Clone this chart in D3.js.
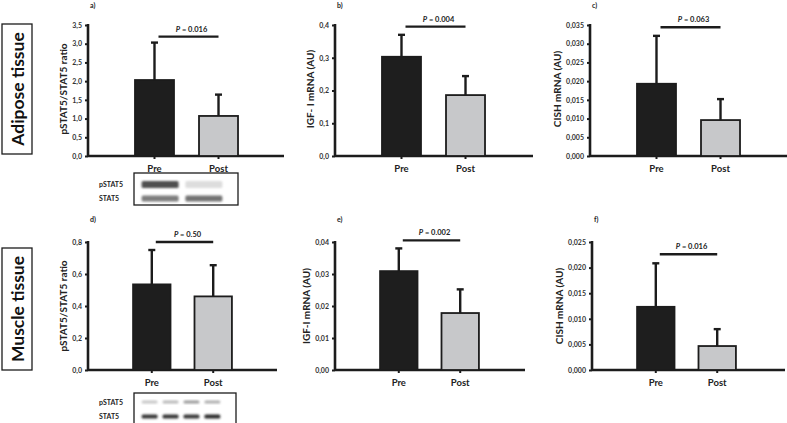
<!DOCTYPE html>
<html><head><meta charset="utf-8">
<script src="https://cdn.jsdelivr.net/npm/d3@7"></script>
<style>
html,body{margin:0;padding:0;background:#fff;}
svg{display:block;font-family:Lato,"Open Sans",sans-serif;}
</style></head>
<body>
<svg id="chart" width="787" height="423"></svg>
<script>
const categories = ["Pre", "Post"];
const panelLetters = ["a)", "b)", "c)", "d)", "e)", "f)"];
const preMeans  = [2.03, 0.303, 0.0193, 0.535, 0.0309, 0.01234];
const postMeans = [1.07, 0.186, 0.0096, 0.46, 0.0178, 0.00468];
const preErr    = [1.00, 0.067, 0.0128, 0.215, 0.0071, 0.0085];
const postErr   = [0.57, 0.058, 0.0056, 0.195, 0.0074, 0.0033];
const yMax      = [3.5, 0.4, 0.035, 0.8, 0.04, 0.025];
const yTickStep = [0.5, 0.1, 0.005, 0.2, 0.01, 0.005];
const yDecimals = [1, 1, 3, 1, 2, 3];
const yLabels   = ["pSTAT5/STAT5 ratio", "IGF- I mRNA (AU)", "CISH mRNA (AU)",
                   "pSTAT5/STAT5 ratio", "IGF-I mRNA (AU)", "CISH mRNA (AU)"];
const pValues   = ["0.016", "0.004", "0.063", "0.50", "0.002", "0.016"];
const sigLevel  = [3.19, 0.395, 0.0344, 0.80, 0.0405, 0.0226];
const tissueLabels = ["Adipose tissue", "Muscle tissue"];
const blotRows = ["pSTAT5", "STAT5"];
// band intensities (0..1) per lane
const blotAdiposeP = [0.78, 0.07];
const blotAdiposeT = [0.55, 0.6];
const blotMuscleP = [0.18, 0.25, 0.4, 0.3];
const blotMuscleT = [0.9, 0.9, 0.88, 0.95];

const svg = d3.select("#chart");
const ink = "#1c1c1c";

// layout
const rowGeom = [{base: 156, top: 25}, {base: 370, top: 242}];
const colAxisX = [[88, 335, 590], [88, 335, 592]];
const colAxisEnd = [[284, 533, 787], [277, 525, 785]];

const defs = svg.append("defs");
defs.append("filter").attr("id", "blur").attr("x", "-20%").attr("y", "-50%").attr("width", "140%").attr("height", "200%")
  .append("feGaussianBlur").attr("stdDeviation", 0.9);

panelLetters.forEach((letter, i) => {
  const r = Math.floor(i / 3), c = i % 3;
  const ax = colAxisX[r][c], axEnd = colAxisEnd[r][c];
  const {base, top} = rowGeom[r];
  const g = svg.append("g");

  const y = d3.scaleLinear().domain([0, yMax[i]]).range([base, top]);
  const x = d3.scaleBand().domain(categories).range([ax, ax + 197 - (r === 1 ? 8 : 0)])
    .paddingInner(25 / 64).paddingOuter(0.734);
  const bw = x.bandwidth();

  const ticks = d3.range(0, yMax[i] + yTickStep[i] / 2, yTickStep[i]);
  const fmt = v => d3.format("." + yDecimals[i] + "f")(v).replace(".", ",");

  // y axis
  const yAxis = d3.axisLeft(y).tickValues(ticks).tickFormat(fmt).tickSize(3).tickPadding(3);
  const ya = g.append("g").attr("transform", `translate(${ax},0)`).call(yAxis);
  ya.select(".domain").remove();
  ya.selectAll(".tick line").attr("stroke", ink).attr("stroke-width", 2);
  ya.selectAll(".tick text").attr("font-size", 7).attr("font-weight", 700).attr("fill", "#333")
    .attr("font-family", "Lato, sans-serif");
  let tw = 0;
  ya.selectAll(".tick text").each(function () { tw = Math.max(tw, this.getComputedTextLength()); });
  g.append("line").attr("x1", ax).attr("x2", ax).attr("y1", top - 1).attr("y2", base)
    .attr("stroke", ink).attr("stroke-width", 2.6);

  // x axis
  const xAxis = d3.axisBottom(x).tickSize(3).tickPadding(6);
  const xa = g.append("g").attr("transform", `translate(0,${base})`).call(xAxis);
  xa.select(".domain").remove();
  xa.selectAll(".tick line").attr("stroke", ink).attr("stroke-width", 2);
  xa.selectAll(".tick text").attr("font-size", 9.5).attr("font-weight", 700).attr("fill", "#222")
    .attr("font-family", "Lato, sans-serif");
  g.append("line").attr("x1", ax).attr("x2", axEnd).attr("y1", base).attr("y2", base)
    .attr("stroke", ink).attr("stroke-width", 2.6);

  const vals = [preMeans[i], postMeans[i]];
  const errs = [preErr[i], postErr[i]];
  const fills = ["#1e1e1e", "#c7c8ca"];

  // error bars (upper only)
  categories.forEach((cat, k) => {
    const cx = x(cat) + bw / 2;
    g.append("line").attr("x1", cx).attr("x2", cx).attr("y1", y(vals[k])).attr("y2", y(vals[k] + errs[k]))
      .attr("stroke", ink).attr("stroke-width", 2.4);
    g.append("line").attr("x1", cx - 3.5).attr("x2", cx + 3.5)
      .attr("y1", y(vals[k] + errs[k])).attr("y2", y(vals[k] + errs[k]))
      .attr("stroke", ink).attr("stroke-width", 2.4);
  });

  // bars
  g.selectAll("rect.bar").data(categories).join("rect").attr("class", "bar")
    .attr("x", d => x(d)).attr("width", bw)
    .attr("y", (d, k) => y(vals[k])).attr("height", (d, k) => base - y(vals[k]))
    .attr("fill", (d, k) => fills[k]).attr("stroke", ink).attr("stroke-width", 1.8);

  // significance
  const sx1 = x("Pre") + bw / 2 + 4, sx2 = x("Post") + bw / 2;
  const sy = y(sigLevel[i]);
  g.append("line").attr("x1", sx1).attr("x2", sx2).attr("y1", sy).attr("y2", sy)
    .attr("stroke", ink).attr("stroke-width", 2.4);
  const t = g.append("text").attr("x", (sx1 + sx2) / 2 + 3).attr("y", sy - 5)
    .attr("text-anchor", "middle").attr("font-size", 7.5).attr("font-weight", 700).attr("fill", "#222");
  t.append("tspan").attr("font-style", "italic").text("P");
  t.append("tspan").text(" = " + pValues[i]);

  // y label
  g.append("text").attr("transform", `translate(${ax - 6 - tw - 5},${(r === 0 ? 89 : 306)}) rotate(-90)`)
    .attr("text-anchor", "middle").attr("font-size", 10).attr("font-weight", 700).attr("fill", "#222")
    .text(yLabels[i]);

  // panel letter
  g.append("text").attr("x", ax + 2).attr("y", r === 0 ? 8 : 222)
    .attr("font-size", 7).attr("font-weight", 700).attr("fill", "#222").text(letter);
});

// tissue labels
tissueLabels.forEach((lab, r) => {
  const y0 = r === 0 ? 24 : 248, y1 = r === 0 ? 154 : 370;
  svg.append("rect").attr("x", 2).attr("y", y0).attr("width", 30).attr("height", y1 - y0)
    .attr("fill", "none").attr("stroke", ink).attr("stroke-width", 1.3);
  svg.append("text").attr("transform", `translate(23.5,${(y0 + y1) / 2}) rotate(-90)`)
    .attr("text-anchor", "middle").attr("font-size", 17.5).attr("font-weight", 700).attr("fill", "#111")
    .text(lab);
});

// blots
function drawBlot(bx, by, bwid, bh, rowY, pI, tI, bandW, bandH) {
  const lanes = d3.scaleBand().domain(d3.range(pI.length)).range([bx + 6, bx + bwid - 14]).paddingInner(0.08);
  svg.append("rect").attr("x", bx).attr("y", by).attr("width", bwid).attr("height", bh)
    .attr("fill", "#fff").attr("stroke", ink).attr("stroke-width", 1.3);
  [pI, tI].forEach((arr, k) => {
    arr.forEach((v, j) => {
      const gray = Math.round(235 - v * 200);
      svg.append("rect").attr("x", lanes(j) + (lanes.bandwidth() - bandW[k]) / 2).attr("width", bandW[k])
        .attr("y", rowY[k] - bandH[k] / 2).attr("height", bandH[k]).attr("rx", 1.5)
        .attr("fill", `rgb(${gray},${gray},${gray})`).attr("filter", "url(#blur)");
    });
    svg.append("text").attr("x", 99).attr("y", rowY[k] + 2.5).attr("font-size", 7).attr("font-weight", 700)
      .attr("fill", "#222").text(blotRows[k]);
  });
}
drawBlot(134, 173, 104, 32, [184.5, 198.5], blotAdiposeP, blotAdiposeT, [37, 37], [7, 6]);
drawBlot(134, 393, 102, 32, [402, 416.5], blotMuscleP, blotMuscleT, [16, 16], [3, 4]);
</script>
</body></html>
